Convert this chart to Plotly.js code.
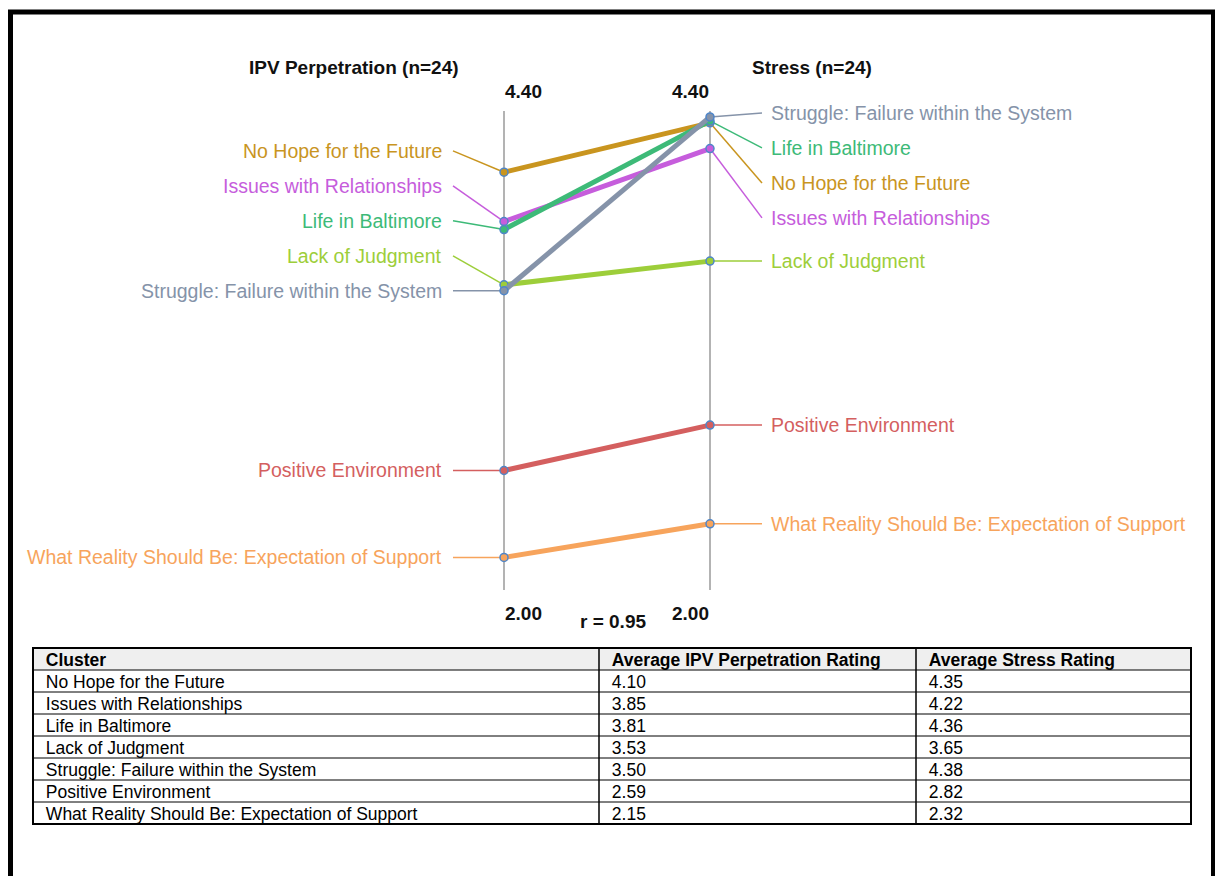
<!DOCTYPE html>
<html>
<head>
<meta charset="utf-8">
<script src="https://cdn.plot.ly/plotly-3.0.1.min.js"></script>
<style>
  html, body { margin: 0; padding: 0; background: #ffffff; }
  #chart { width: 1215px; height: 876px; }
</style>
</head>
<body>
<div id="chart"></div>
<script>
// ---------------- data ----------------
const clusters = [
  "No Hope for the Future",
  "Issues with Relationships",
  "Life in Baltimore",
  "Lack of Judgment",
  "Struggle: Failure within the System",
  "Positive Environment",
  "What Reality Should Be: Expectation of Support"
];
const ipvRatings    = [4.10, 3.85, 3.81, 3.53, 3.50, 2.59, 2.15];
const stressRatings = [4.35, 4.22, 4.36, 3.65, 4.38, 2.82, 2.32];
const seriesColors  = ["#c9951f", "#c65ddc", "#3dba78", "#9dce3a", "#8593a9", "#d45f5f", "#f7a45c"];
const axisTitles    = ["IPV Perpetration (n=24)", "Stress (n=24)"];
const axisMin = 2.00, axisMax = 4.40;
const correlation = 0.95;
const tableHeaders = ["Cluster", "Average IPV Perpetration Rating", "Average Stress Rating"];

// ---------------- label placement (1-D repel) ----------------
const GAP = 0.177; // minimal vertical spacing between labels (data units)
function placeLabels(vals) {
  const idx = vals.map((v, i) => i).sort((a, b) => vals[a] - vals[b]); // ascending
  const pos = new Array(vals.length);
  let prev = -Infinity;
  idx.forEach(i => { pos[i] = Math.max(vals[i], prev + GAP); prev = pos[i]; });
  let cap = axisMax;
  for (let k = idx.length - 1; k >= 0; k--) {
    const i = idx[k];
    pos[i] = Math.min(pos[i], cap);
    cap = pos[i] - GAP;
  }
  return pos;
}
const leftLabelY = placeLabels(ipvRatings);
const rightLabelY = placeLabels(stressRatings);

// ---------------- geometry helpers ----------------
const W = 1215, H = 876;
const px = v => v / W;
const py = v => 1 - v / H;
const font = "Arial, 'Liberation Sans', Helvetica, sans-serif";
const LEFT_CONN = -0.2476, RIGHT_CONN = 1.2524;
const LEFT_TEXT = -0.292, RIGHT_TEXT = 1.288;

const traces = [];
// vertical axis lines
[0, 1].forEach(x => {
  traces.push({
    type: "scatter", mode: "lines", x: [x, x], y: [1.985, 4.41],
    line: { color: "#b3b3b3", width: 2 }, hoverinfo: "skip", showlegend: false
  });
});
// connectors
clusters.forEach((c, i) => {
  traces.push({
    type: "scatter", mode: "lines",
    x: [LEFT_CONN, 0], y: [leftLabelY[i], ipvRatings[i]],
    line: { color: seriesColors[i], width: 1.5 }, hoverinfo: "skip", showlegend: false
  });
  traces.push({
    type: "scatter", mode: "lines",
    x: [1, RIGHT_CONN], y: [stressRatings[i], rightLabelY[i]],
    line: { color: seriesColors[i], width: 1.5 }, hoverinfo: "skip", showlegend: false
  });
});
// slopes
clusters.forEach((c, i) => {
  traces.push({
    type: "scatter", mode: "lines+markers", name: c,
    x: [0, 1], y: [ipvRatings[i], stressRatings[i]],
    line: { color: seriesColors[i], width: 5 },
    marker: { color: seriesColors[i], size: 8, line: { color: "#4f86c9", width: 1.5 } },
    showlegend: false
  });
});

// table geometry
const TBL_L = 33, TBL_R = 1191, TBL_T = 648, ROW_H = 22;
const colW = [566, 317, 275];
const nRows = clusters.length + 1;
const TBL_B = TBL_T + nRows * ROW_H;
const TEXT_LIFT = 3; // table text sits a little higher in its row than Plotly's default

const pad = "\u00a0";
traces.push({
  type: "table",
  domain: { x: [px(TBL_L), px(TBL_R)], y: [py(TBL_B + 10), py(TBL_T - TEXT_LIFT)] },
  columnwidth: colW,
  header: {
    values: tableHeaders.map(s => pad + s),
    align: "left", height: ROW_H,
    fill: { color: "rgba(0,0,0,0)" },
    line: { color: "rgba(0,0,0,0)", width: 0 },
    font: { family: font, size: 17.5, color: "#000000", weight: "bold" }
  },
  cells: {
    values: [clusters.map(s => pad + s), ipvRatings.map(v => pad + v.toFixed(2)), stressRatings.map(v => pad + v.toFixed(2))],
    align: "left", height: ROW_H,
    fill: { color: "rgba(0,0,0,0)" },
    line: { color: "rgba(0,0,0,0)", width: 0 },
    font: { family: font, size: 17.5, color: "#000000" }
  }
});

// ---------------- annotations ----------------
const annotations = [];
clusters.forEach((c, i) => {
  annotations.push({
    x: LEFT_TEXT, y: leftLabelY[i], xref: "x", yref: "y", text: c, showarrow: false,
    xanchor: "right", yanchor: "middle", font: { family: font, size: 19.5, color: seriesColors[i] }
  });
  annotations.push({
    x: RIGHT_TEXT, y: rightLabelY[i], xref: "x", yref: "y", text: c, showarrow: false,
    xanchor: "left", yanchor: "middle", font: { family: font, size: 19.5, color: seriesColors[i] }
  });
});
const boldFont = { family: font, size: 19, color: "#111111" };
annotations.push({ x: -0.728, y: py(68), xref: "x", yref: "paper", text: "<b>" + axisTitles[0] + "</b>", showarrow: false, xanchor: "center", yanchor: "middle", font: boldFont });
annotations.push({ x: 1.495, y: py(68), xref: "x", yref: "paper", text: "<b>" + axisTitles[1] + "</b>", showarrow: false, xanchor: "center", yanchor: "middle", font: boldFont });
[[0, 19], [1, -20]].forEach(([x, s]) => {
  annotations.push({ x: x, y: axisMax, xref: "x", yref: "y", text: "<b>" + axisMax.toFixed(2) + "</b>", showarrow: false, xanchor: "center", yanchor: "middle", xshift: s, yshift: 21, font: boldFont });
  annotations.push({ x: x, y: axisMin, xref: "x", yref: "y", text: "<b>" + axisMin.toFixed(2) + "</b>", showarrow: false, xanchor: "center", yanchor: "middle", xshift: s, yshift: -26, font: boldFont });
});
annotations.push({ x: 0.529, y: py(621), xref: "x", yref: "paper", text: "<b>r = " + correlation.toFixed(2) + "</b>", showarrow: false, xanchor: "center", yanchor: "middle", font: boldFont });

// ---------------- frame + table grid shapes ----------------
const shapes = [
  { type: "line", xref: "paper", yref: "paper", x0: px(8), x1: px(1215), y0: py(12), y1: py(12), line: { color: "#000", width: 5 } },
  { type: "line", xref: "paper", yref: "paper", x0: px(10.5), x1: px(10.5), y0: py(10), y1: -0.05, line: { color: "#000", width: 5 } },
  { type: "line", xref: "paper", yref: "paper", x0: px(1213), x1: px(1213), y0: py(10), y1: -0.05, line: { color: "#000", width: 4 } },
  // header background
  { type: "rect", layer: "below", xref: "paper", yref: "paper", x0: px(TBL_L), x1: px(TBL_R), y0: py(TBL_T + ROW_H), y1: py(TBL_T), line: { width: 0 }, fillcolor: "#efefef" }
];
for (let r = 1; r < nRows; r++) {
  const yy = TBL_T + r * ROW_H;
  shapes.push({ type: "line", xref: "paper", yref: "paper", x0: px(TBL_L), x1: px(TBL_R), y0: py(yy), y1: py(yy), line: { color: "#000", width: 1 } });
}
let cx = TBL_L;
const totalW = colW.reduce((a, b) => a + b, 0);
for (let c = 0; c < colW.length - 1; c++) {
  cx += colW[c] * (TBL_R - TBL_L) / totalW;
  shapes.push({ type: "line", xref: "paper", yref: "paper", x0: px(cx), x1: px(cx), y0: py(TBL_T), y1: py(TBL_B), line: { color: "#000", width: 1.5 } });
}
shapes.push({ type: "rect", xref: "paper", yref: "paper", x0: px(TBL_L), x1: px(TBL_R), y0: py(TBL_B), y1: py(TBL_T), line: { color: "#000", width: 2 }, fillcolor: "rgba(0,0,0,0)" });

const layout = {
  width: W, height: H,
  margin: { l: 0, r: 0, t: 0, b: 0 },
  paper_bgcolor: "#ffffff", plot_bgcolor: "rgba(0,0,0,0)",
  xaxis: { range: [-504 / 206, (W - 504) / 206], domain: [0, 1], visible: false, fixedrange: true },
  yaxis: { range: [1.985, 4.41], domain: [py(590), py(111)], visible: false, fixedrange: true },
  annotations: annotations,
  shapes: shapes,
  showlegend: false
};

Plotly.newPlot("chart", traces, layout, { displayModeBar: false, staticPlot: true });
</script>
</body>
</html>
